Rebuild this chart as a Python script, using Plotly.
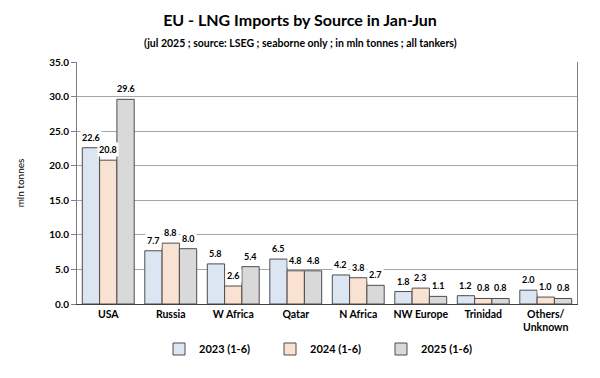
import plotly.graph_objects as go

categories = ["USA", "Russia", "W Africa", "Qatar", "N Africa", "NW Europe", "Trinidad", "Others/<br>Unknown"]
series_names = ["2023 (1-6)", "2024 (1-6)", "2025 (1-6)"]
v2023 = [22.6, 7.7, 5.8, 6.5, 4.2, 1.8, 1.2, 2.0]
v2024 = [20.8, 8.8, 2.6, 4.8, 3.8, 2.3, 0.8, 1.0]
v2025 = [29.6, 8.0, 5.4, 4.8, 2.7, 1.1, 0.8, 0.8]
y_ticks = [0, 5, 10, 15, 20, 25, 30, 35]

colors = ["#dce6f2", "#f9e2d2", "#d9d9d9"]
FONT = "Lato"

# page has an 8px body margin; figure is sized to fit inside the window
W, H = 592, 370
L, R, T, B = 69, 23, 54, 74
PH = H - T - B
PW = W - L - R

fig = go.Figure()
all_vals = [v2023, v2024, v2025]
for name, vals, c in zip(series_names, all_vals, colors):
    fig.add_trace(go.Bar(
        x=categories, y=vals, name=name,
        marker=dict(color=c, line=dict(color="#4d4d4d", width=1)),
    ))

bargap = 0.17
cat_px = PW / len(categories)
bar_px = cat_px * (1 - bargap) / 3
for i, vals in enumerate(all_vals):
    for cat, v in zip(categories, vals):
        fig.add_annotation(
            x=cat, y=v, xref="x", yref="y",
            text=f"<b>{v:.1f}</b>", showarrow=False,
            xshift=(i - 1) * bar_px, yshift=3, yanchor="bottom",
            bgcolor="white", borderpad=1,
            font=dict(family=FONT, size=9, color="#000"),
        )

fig.add_annotation(
    text="<b>(jul 2025 ; source: LSEG ; seaborne only ; in mln tonnes ; all tankers)</b>",
    xref="paper", yref="paper", x=(292 - L) / PW, y=1 + (T - 35) / PH,
    xanchor="center", yanchor="middle", showarrow=False,
    font=dict(family=FONT, size=10.5, color="#000"),
)

fig.update_layout(
    width=W, height=H,
    margin=dict(l=L, r=R, t=T, b=B, autoexpand=False),
    paper_bgcolor="white", plot_bgcolor="white",
    barmode="group", bargap=bargap, bargroupgap=0,
    font=dict(family=FONT, color="#000"),
    title=dict(
        text="<b>EU - LNG Imports by Source in Jan-Jun</b>",
        x=292 / W, xanchor="center", y=1 - 12 / H, yanchor="middle",
        font=dict(family=FONT, size=16, color="#000"),
    ),
    showlegend=True,
    legend=dict(
        orientation="h", x=(151 - L) / PW, xanchor="left", y=-(341 - (H - B)) / PH, yanchor="middle",
        font=dict(family=FONT, size=11, color="#000", weight="bold"),
        entrywidth=66, entrywidthmode="pixels", itemwidth=30,
        traceorder="normal",
    ),
)
fig.update_yaxes(
    range=[0, 35], tickvals=y_ticks, tickformat=".1f",
    showgrid=True, gridcolor="#a6a6a6", gridwidth=1,
    showline=True, linecolor="#7f7f7f", mirror=True,
    ticks="outside", ticklen=5, tickcolor="#7f7f7f",
    tickfont=dict(family=FONT, size=10, color="#000", weight="bold"),
    title=dict(text="mln tonnes", font=dict(family=FONT, size=10, color="#000"), standoff=22),
    zeroline=False, automargin=False,
)
fig.update_xaxes(
    showline=True, linecolor="#404040", mirror=False,
    tickfont=dict(family=FONT, size=10.5, color="#000", weight="bold"),
    ticks="", automargin=False,
)
fig.write_html("out.html")
